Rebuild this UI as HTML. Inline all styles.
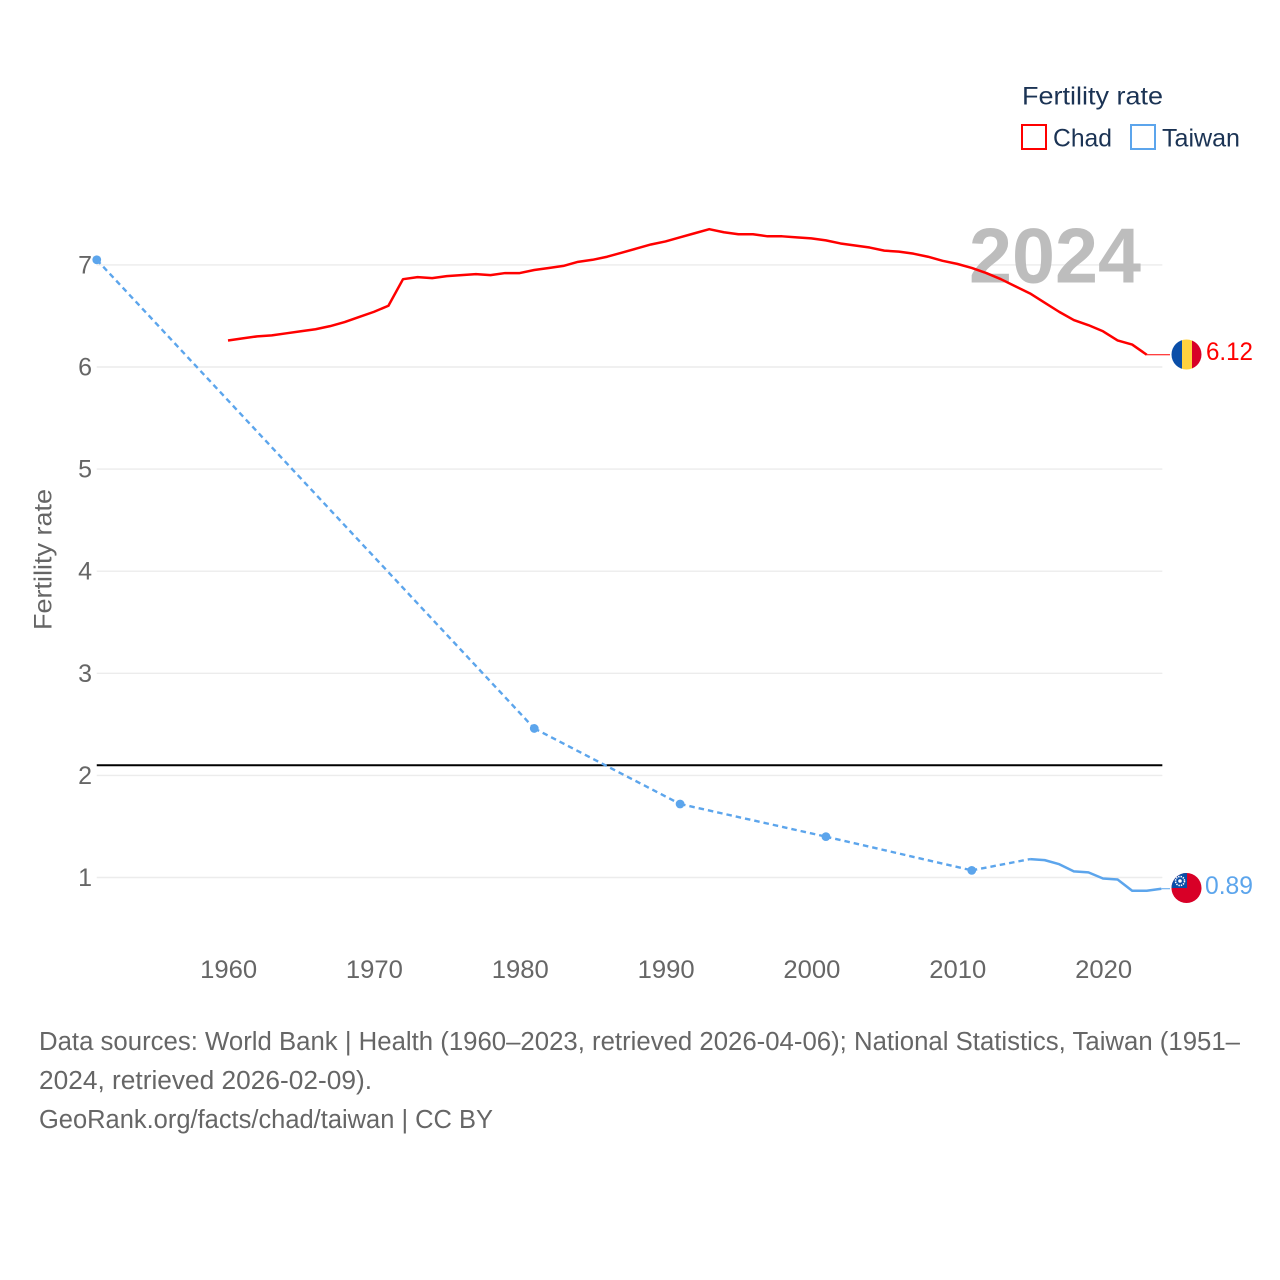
<!DOCTYPE html>
<html lang="en">
<head>
<meta charset="utf-8">
<title>Fertility rate: Chad and Taiwan</title>
<style>
html,body{margin:0;padding:0;background:#fff;width:1280px;height:1280px;overflow:hidden}
svg{display:block}
text{font-family:"Liberation Sans",sans-serif}
</style>
</head>
<body>
<svg id="chart" xmlns="http://www.w3.org/2000/svg" width="1280" height="1280" viewBox="0 0 1280 1280">
  <rect x="0" y="0" width="1280" height="1280" fill="#fff"/>
  <g id="grid"></g>
  <text x="969" y="282.5" font-size="78" font-weight="700" fill="#bdbdbd" textLength="172" lengthAdjust="spacingAndGlyphs">2024</text>
  <g id="yticks"></g>
  <g id="xticks"></g>
  <text transform="translate(51.5,630) rotate(-90)" font-size="25" fill="#666" textLength="141" lengthAdjust="spacingAndGlyphs">Fertility rate</text>
  <g id="marks"></g>

  <g id="flagChad">
    <clipPath id="chadClip"><circle cx="1186.5" cy="354.5" r="15"/></clipPath>
    <g clip-path="url(#chadClip)">
      <rect x="1171" y="339" width="11" height="31" fill="#0a4ea8"/>
      <rect x="1182" y="339" width="10" height="31" fill="#ffd23f"/>
      <rect x="1192" y="339" width="11" height="31" fill="#d80027"/>
    </g>
  </g>
  <g id="flagTaiwan">
    <clipPath id="twClip"><circle cx="1186.5" cy="888" r="15"/></clipPath>
    <g clip-path="url(#twClip)">
      <rect x="1171" y="872" width="32" height="32" fill="#d80027"/>
      <rect x="1171" y="872" width="16" height="16" fill="#0a4ea8"/>
      <circle cx="1180" cy="881" r="4.5" fill="none" stroke="#fff" stroke-width="1.6" stroke-dasharray="1.4 1"/>
      <circle cx="1180" cy="881" r="1.8" fill="#fff"/>
    </g>
  </g>

  <text id="labelChad" x="1206" y="360" font-size="25" fill="#ff0000" textLength="47" lengthAdjust="spacingAndGlyphs"></text>
  <text id="labelTaiwan" x="1205" y="894" font-size="25" fill="#5ca5ec" textLength="48" lengthAdjust="spacingAndGlyphs"></text>

  <g>
    <text x="1022" y="104.5" font-size="25" fill="#1b3354" textLength="141" lengthAdjust="spacingAndGlyphs">Fertility rate</text>
    <g>
      <rect x="1022" y="125" width="24" height="24" fill="#fff" stroke="#ff0000" stroke-width="2"/>
      <text x="1053" y="146.5" font-size="25" fill="#1b3354" textLength="59" lengthAdjust="spacingAndGlyphs">Chad</text>
    </g>
    <g>
      <rect x="1131" y="125" width="24" height="24" fill="#fff" stroke="#5ca5ec" stroke-width="2"/>
      <text x="1162" y="146.5" font-size="25" fill="#1b3354" textLength="78" lengthAdjust="spacingAndGlyphs">Taiwan</text>
    </g>
  </g>

  <g>
    <text x="39" y="1050" font-size="25.5" fill="#666" textLength="1201" lengthAdjust="spacingAndGlyphs">Data sources: World Bank | Health (1960–2023, retrieved 2026-04-06); National Statistics, Taiwan (1951–</text>
    <text x="39" y="1089" font-size="25.5" fill="#666" textLength="333" lengthAdjust="spacingAndGlyphs">2024, retrieved 2026-02-09).</text>
    <text x="39" y="1128" font-size="25.5" fill="#666" textLength="454" lengthAdjust="spacingAndGlyphs">GeoRank.org/facts/chad/taiwan | CC BY</text>
  </g>
</svg>
<script>
var yTicks = [1, 2, 3, 4, 5, 6, 7];
var xTicks = [1960, 1970, 1980, 1990, 2000, 2010, 2020];
var replacementRate = [2.1];
var chadYears = [1960,1961,1962,1963,1964,1965,1966,1967,1968,1969,1970,1971,1972,1973,1974,1975,1976,1977,1978,1979,1980,1981,1982,1983,1984,1985,1986,1987,1988,1989,1990,1991,1992,1993,1994,1995,1996,1997,1998,1999,2000,2001,2002,2003,2004,2005,2006,2007,2008,2009,2010,2011,2012,2013,2014,2015,2016,2017,2018,2019,2020,2021,2022,2023];
var chadValues = [6.26,6.28,6.30,6.31,6.33,6.35,6.37,6.40,6.44,6.49,6.54,6.60,6.86,6.88,6.87,6.89,6.90,6.91,6.90,6.92,6.92,6.95,6.97,6.99,7.03,7.05,7.08,7.12,7.16,7.20,7.23,7.27,7.31,7.35,7.32,7.30,7.30,7.28,7.28,7.27,7.26,7.24,7.21,7.19,7.17,7.14,7.13,7.11,7.08,7.04,7.01,6.97,6.92,6.86,6.79,6.72,6.63,6.54,6.46,6.41,6.35,6.26,6.22,6.12];
var taiwanYears = [1951,1981,1991,2001,2011,2015,2016,2017,2018,2019,2020,2021,2022,2023,2024];
var taiwanValues = [7.05,2.46,1.72,1.40,1.07,1.18,1.17,1.13,1.06,1.05,0.99,0.98,0.87,0.87,0.89];

var SVGNS = 'http://www.w3.org/2000/svg';
function xScale(year) { return 228 + (year - 1960) * (875 / 60); }
function yScale(value) { return 877.5 - (value - 1) * 102.1; }
var plotLeft = xScale(1951);
var plotRight = xScale(2024) + 1;
var connectorEnd = 1170;

function make(tag, attrs, parent) {
  var el = document.createElementNS(SVGNS, tag);
  for (var k in attrs) { el.setAttribute(k, attrs[k]); }
  parent.appendChild(el);
  return el;
}

var grid = document.getElementById('grid');
var yGroup = document.getElementById('yticks');
var xGroup = document.getElementById('xticks');
var marks = document.getElementById('marks');

yTicks.forEach(function (t) {
  var line = make('line', {x1: plotLeft, x2: plotRight, y1: yScale(t), y2: yScale(t), stroke: '#ececec', 'stroke-width': 1.4}, grid);
  
  
  var label = make('text', {x: 92, y: yScale(t) + 8.5, 'font-size': 25, fill: '#666', 'text-anchor': 'end'}, yGroup);
  
  
  label.textContent = t;
});

xTicks.forEach(function (t) {
  var label = make('text', {x: xScale(t) + 0.6, y: 978, 'font-size': 25, fill: '#666', 'text-anchor': 'middle', textLength: 57, lengthAdjust: 'spacingAndGlyphs'}, xGroup);
  
  
  label.textContent = t;
});

var refLine = make('line', {x1: plotLeft, x2: plotRight, y1: yScale(replacementRate[0]), y2: yScale(replacementRate[0]), stroke: '#000', 'stroke-width': 2}, marks);



function pointsFor(years, values) {
  return years.map(function (y, i) { return xScale(y).toFixed(2) + ',' + yScale(values[i]).toFixed(2); }).join(' ');
}

var chadLine = make('polyline', {points: pointsFor(chadYears, chadValues), fill: 'none', stroke: '#ff0000', 'stroke-width': 2.5, 'stroke-linejoin': 'round'}, marks);



var lastChad = chadValues[chadValues.length - 1];
var chadConnector = make('line', {x1: xScale(chadYears[chadYears.length - 1]), x2: connectorEnd, y1: yScale(lastChad), y2: yScale(lastChad), stroke: '#ff0000', 'stroke-width': 1}, marks);



var startIdx = 0;
for (var i = 1; i < taiwanYears.length; i++) {
  if (taiwanYears[i] - taiwanYears[i - 1] > 1) {
    var gap = make('line', {x1: xScale(taiwanYears[i - 1]), y1: yScale(taiwanValues[i - 1]), x2: xScale(taiwanYears[i]), y2: yScale(taiwanValues[i]), fill: 'none', stroke: '#5ca5ec', 'stroke-width': 2.4, 'stroke-dasharray': '5.5 4'}, marks);
    
    
    startIdx = i;
  }
}
var twLine = make('polyline', {points: pointsFor(taiwanYears.slice(startIdx), taiwanValues.slice(startIdx)), fill: 'none', stroke: '#5ca5ec', 'stroke-width': 2.5, 'stroke-linejoin': 'round'}, marks);



for (var j = 0; j < startIdx; j++) {
  var dot = make('circle', {cx: xScale(taiwanYears[j]), cy: yScale(taiwanValues[j]), r: 4.4, fill: '#5ca5ec'}, marks);
  
  
}

var lastTw = taiwanValues[taiwanValues.length - 1];
var twConnector = make('line', {x1: xScale(taiwanYears[taiwanYears.length - 1]), x2: connectorEnd, y1: yScale(lastTw), y2: yScale(lastTw), stroke: '#5ca5ec', 'stroke-width': 1}, marks);



document.getElementById('labelChad').textContent = lastChad.toFixed(2);
document.getElementById('labelTaiwan').textContent = lastTw.toFixed(2);
</script>
</body>
</html>
